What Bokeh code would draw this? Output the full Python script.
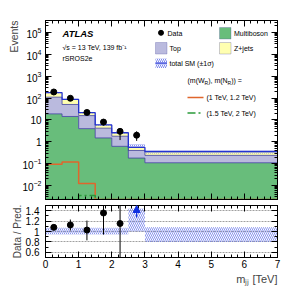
import numpy as np
from bokeh.plotting import figure
from bokeh.models import (Range1d, LinearAxis, LogAxis, Label, BoxAnnotation, Title,
                          FixedTicker, Arrow, NormalHead)
from bokeh.layouts import column
from bokeh.embed import file_html
from bokeh.resources import INLINE

# ---------------- data ----------------
edges = [0.0, 0.5, 1.0, 1.5, 2.0, 2.5, 3.0, 7.0]
multiboson = [19.0, 14.4, 4.0, 1.5, 0.62, 0.18, 0.11]
top_quark = [91.0, 36.6, 11.8, 2.7, 1.18, 0.22, 0.13]
zjets = [66.0, 36.0, 5.6, 1.7, 0.8, 0.15, 0.12]
data = [190, 98, 22, 8, 3, 2, 0]
data_lo = [176, 88, 17.5, 5.6, 1.2, 1.1, 0]
data_hi = [204, 108, 27, 10.5, 4.2, 3.0, 0]
unc_rel_lo = [0.94, 0.94, 0.94, 0.94, 0.94, 1.0, 0.80]
unc_rel_hi = [1.07, 1.07, 1.07, 1.07, 1.07, 1.44, 1.08]
sig_1000_1200 = [0.095, 0.12, 0.0125, 0.0, 0.0, 0.0, 0.0]
sig_1500_2000 = [0.0, 0.0, 0.0035, 0.0, 0.0, 0.0, 0.0]
ratio_err_lo = [1.03, 1.02, 0.83, 0.94, 0.40, 0.0, 0.0]
ratio_err_hi = [1.13, 1.23, 1.21, 1.80, 2.00, 0.0, 0.0]

x_ticks = [0, 1, 2, 3, 4, 5, 6, 7]
log_ticks = [1e-2, 1e-1, 1.0, 10.0, 1e2, 1e3, 1e4, 1e5]
ratio_ticks = [0.6, 0.8, 1.0, 1.2, 1.4]
ratio_tick_labels = ["0.6", "0.8", "1", "1.2", "1.4"]

# ---------------- style ----------------
FONT = "Liberation Sans"
C_MB = "#68bd7b"
C_TOP = "#babade"
C_ZJ = "#ffffb0"
C_EDGE = "#3c3ca0"
C_TOT = "#2433d0"
C_HATCH = "#5a6ae8"
C_SIG1 = "#e0662c"
C_SIG2 = "#2a9a3a"

LT, LB = 5.55, -2.64
YMIN, YMAX = 10 ** LB, 10 ** LT
X0, X1, FT, FB = 45.0, 277.0, 20.0, 199.0   # frame in page px


def X(px):
    return float((px - X0) / (X1 - X0) * 7.0)


def Y(py):
    return float(10 ** (LT - (py - FT) / (FB - FT) * (LT - LB)))


e = np.array(edges)
left, right = e[:-1], e[1:]
centers = 0.5 * (left + right)
mb = np.array(multiboson)
tp = np.array(top_quark)
zj = np.array(zjets)
c1 = mb
c2 = mb + tp
total = c2 + zj
d = np.array(data, dtype=float)


def stepy(v):
    return [float(t) for t in v] + [float(v[-1])]


xt = FixedTicker(ticks=x_ticks, minor_ticks=[float(v) for v in np.round(np.arange(0, 7.01, 0.2), 2)])
yt = FixedTicker(ticks=log_ticks,
                 minor_ticks=[mm * 10.0 ** k for k in range(-3, 6) for mm in range(2, 10)])
rt = FixedTicker(ticks=ratio_ticks, minor_ticks=[0.5, 0.7, 0.9, 1.1, 1.3, 1.5])

p1 = figure(width=299, height=200, x_range=Range1d(0, 7), y_range=Range1d(YMIN, YMAX),
            y_axis_type="log", output_backend="svg", toolbar_location=None,
            min_border_left=45, min_border_right=22, min_border_top=20, min_border_bottom=1)
p1.grid.visible = False
p1.outline_line_color = "black"

floor = YMIN * 0.5
xe = list(e)
p1.varea_step(x=xe, y1=[floor] * len(xe), y2=stepy(c1), step_mode="after", fill_color=C_MB)
p1.varea_step(x=xe, y1=stepy(c1), y2=stepy(c2), step_mode="after", fill_color=C_TOP)
p1.varea_step(x=xe, y1=stepy(c2), y2=stepy(total), step_mode="after", fill_color=C_ZJ)
p1.step(x=xe, y=stepy(c1), mode="after", line_color=C_EDGE, line_width=0.8)
p1.step(x=xe, y=stepy(c2), mode="after", line_color=C_EDGE, line_width=0.8)
p1.quad(left=left, right=right, bottom=total * np.array(unc_rel_lo), top=total * np.array(unc_rel_hi),
        fill_alpha=0, line_color=None, hatch_pattern="\\", hatch_color=C_HATCH,
        hatch_scale=4, hatch_weight=0.8, hatch_alpha=0.9)
p1.step(x=xe, y=stepy(total), mode="after", line_color=C_TOT, line_width=1.3)

s1 = np.clip(np.array(sig_1000_1200), YMIN * 1.01, None)
s2 = np.clip(np.array(sig_1500_2000), YMIN * 1.01, None)
p1.step(x=xe, y=stepy(s1), mode="after", line_color=C_SIG1, line_width=1.5)
p1.step(x=xe, y=stepy(s2), mode="after", line_color=C_SIG2, line_width=1.5, line_dash="8 3 2 3")

m = d > 0
p1.segment(x0=centers[m], y0=np.array(data_lo, dtype=float)[m], x1=centers[m],
           y1=np.array(data_hi, dtype=float)[m], line_color="black", line_width=1)
p1.scatter(centers[m], d[m], size=6, color="black")

p1.xaxis.ticker = xt
p1.xaxis.major_label_overrides = {t: "" for t in x_ticks}
p1.xaxis.major_label_standoff = 0
p1.yaxis.ticker = yt
p1.yaxis.major_label_overrides = {1.0: "1", 10.0: "10"}
p1.yaxis.major_label_standoff = 4
p1.add_layout(LinearAxis(ticker=xt, major_label_overrides={t: "" for t in x_ticks},
                         major_label_standoff=0), "above")
p1.add_layout(LogAxis(ticker=yt, major_label_overrides={t: "" for t in log_ticks},
                      major_label_standoff=0), "right")
p1.add_layout(Title(text="Events", align="right", text_font=FONT, text_font_size="10.5px",
                    text_font_style="normal", standoff=0, offset=0), "left")

# ---------------- ratio panel ----------------
p2 = figure(width=299, height=90, x_range=p1.x_range, y_range=Range1d(0.5, 1.5),
            output_backend="svg", toolbar_location=None,
            min_border_left=45, min_border_right=22, min_border_top=5, min_border_bottom=33)
p2.outline_line_color = "black"
p2.xgrid.visible = False
p2.ygrid.ticker = FixedTicker(ticks=ratio_ticks)
p2.ygrid.grid_line_color = "#a0a0a0"
p2.ygrid.grid_line_dash = "2 1"
p2.quad(left=left, right=right, bottom=np.array(unc_rel_lo), top=np.array(unc_rel_hi),
        fill_alpha=0, line_color=None, hatch_pattern="\\", hatch_color=C_HATCH,
        hatch_scale=4, hatch_weight=0.8, hatch_alpha=0.9)
ratio = np.where(total > 0, d / total, 0)
inr = m & (ratio <= 1.5)
p2.segment(x0=centers[inr], y0=np.array(ratio_err_lo)[inr], x1=centers[inr],
           y1=np.array(ratio_err_hi)[inr], line_color="black", line_width=1)
p2.scatter(centers[inr], ratio[inr], size=6, color="black")
for c in centers[m & (ratio > 1.5)]:
    p2.add_layout(Arrow(end=NormalHead(size=7, fill_color="#1030e0", line_color="#1030e0"),
                        x_start=float(c), y_start=1.27, x_end=float(c), y_end=1.5,
                        line_color="#1030e0", line_width=1.2))

p2.xaxis.ticker = xt
p2.xaxis.major_label_standoff = 2
p2.yaxis.ticker = rt
p2.yaxis.major_label_overrides = dict(zip(ratio_ticks, ratio_tick_labels))
p2.yaxis.major_label_standoff = 6
p2.add_layout(LinearAxis(ticker=xt, major_label_overrides={t: "" for t in x_ticks},
                         major_label_standoff=0), "above")
p2.add_layout(LinearAxis(ticker=rt, major_label_overrides={t: "" for t in ratio_ticks},
                         major_label_standoff=0), "right")
p2.add_layout(Title(text="Data / Pred.", align="center", text_font=FONT, text_font_size="10px",
                    text_font_style="normal", standoff=0, offset=0), "left")
p2.add_layout(Title(text="mⱼⱼ [TeV]", align="right", text_font=FONT, text_font_size="11px",
                    text_font_style="normal", standoff=0, offset=0), "below")

for p in (p1, p2):
    for ax in p.axis:
        ax.major_tick_in = 6
        ax.major_tick_out = 0
        ax.minor_tick_in = 3
        ax.minor_tick_out = 0
        ax.axis_line_color = "black"
        ax.major_label_text_font = FONT
        ax.major_label_text_color = "black"
        ax.major_label_text_font_size = "10px"
    p.background_fill_color = "white"
    p.border_fill_color = "white"


# ---------------- texts ----------------
def lab(p, x, y, text, size="7px", style="normal", align="left", baseline="middle", angle=0.0,
        color="black"):
    p.add_layout(Label(x=float(x), y=float(y), text=text, text_font=FONT, text_font_size=size,
                       text_font_style=style, text_align=align, text_baseline=baseline,
                       angle=float(angle), text_color=color))


lab(p1, X(62), Y(33), "ATLAS", size="9.5px", style="bold italic")
lab(p1, X(62), Y(46.5), "√s = 13 TeV, 139 fb⁻¹", size="7px")
lab(p1, X(62), Y(58), "rSROS2e", size="7px")

# legend
p1.scatter([X(160.5)], [Y(32.3)], size=5, color="black")
lab(p1, X(167), Y(32.5), "Data")
p1.add_layout(BoxAnnotation(left=X(219), right=X(230.5), top=Y(27), bottom=Y(38.5),
                            fill_color=C_MB, fill_alpha=1, line_color="#5050a0", line_width=1))
lab(p1, X(233.5), Y(32.5), "Multiboson")
p1.add_layout(BoxAnnotation(left=X(155), right=X(166.5), top=Y(42), bottom=Y(53.5),
                            fill_color=C_TOP, fill_alpha=1, line_color="#5050a0", line_width=1))
lab(p1, X(169), Y(47.5), "Top")
p1.add_layout(BoxAnnotation(left=X(219), right=X(230.5), top=Y(42), bottom=Y(53.5),
                            fill_color=C_ZJ, fill_alpha=1, line_color="#5050a0", line_width=1))
lab(p1, X(233.5), Y(47.5), "Z+jets")
p1.add_layout(BoxAnnotation(left=X(155), right=X(166.5), top=Y(58), bottom=Y(67.5),
                            fill_alpha=0, line_color=None, hatch_pattern="\\", hatch_color=C_HATCH,
                            hatch_scale=4, hatch_weight=0.8))
p1.segment(x0=[X(155)], y0=[Y(62.7)], x1=[X(166.5)], y1=[Y(62.7)], line_color=C_TOT, line_width=1.2)
lab(p1, X(169), Y(62.7), "total SM (±1σ)")

hx = 187.0
for txt, sz, dy, w in [("(m(W", "7px", 0, 17.1), ("R", "5px", 2.5, 3.6), ("), m(N", "7px", 0, 19.4),
                       ("R", "5px", 2.5, 3.6), (")) =", "7px", 0, 10.7)]:
    lab(p1, X(hx), Y(80 + dy), txt, size=sz)
    hx += w

p1.segment(x0=[X(187)], y0=[Y(97)], x1=[X(203)], y1=[Y(97)], line_color=C_SIG1, line_width=1.5)
lab(p1, X(206), Y(97), "(1 TeV, 1.2 TeV)")
p1.segment(x0=[X(187)], y0=[Y(112.5)], x1=[X(203)], y1=[Y(112.5)], line_color=C_SIG2, line_width=1.5,
           line_dash="8 3 2 3")
lab(p1, X(206), Y(112.5), "(1.5 TeV, 2 TeV)")

layout = column(p1, p2)
open("out.html", "w").write(file_html(layout, INLINE))
